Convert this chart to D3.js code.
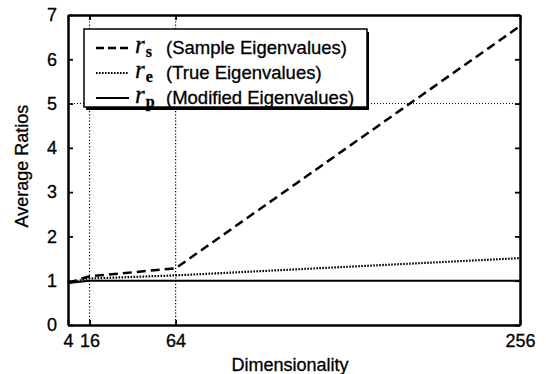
<!DOCTYPE html>
<html>
<head>
<meta charset="utf-8">
<script src="https://cdn.jsdelivr.net/npm/d3@7"></script>
<style>
  body { margin: 0; background: #fff; }
  text { font-family: "Liberation Sans", Arial, sans-serif; fill: #000; stroke: #000; stroke-width: 0.3px; }
</style>
</head>
<body>
<svg id="chart" width="546" height="374"></svg>
<script>
"use strict"

// data
let dims = [4, 16, 64, 256];
let sampleRatios = [0.95, 1.1, 1.28, 6.75];
let trueRatios = [0.95, 1.05, 1.12, 1.51];
let modifiedRatios = [0.95, 1.0, 1.0, 1.0];
let xTicks = [4, 16, 64, 256];
let yTicks = [0, 1, 2, 3, 4, 5, 6, 7];
let gridX = [16, 64];
let gridY = [5];
let legendNames = ["s", "e", "p"];
let legendLabels = ["(Sample Eigenvalues)", "(True Eigenvalues)", "(Modified Eigenvalues)"];

let plotL = 68, plotR = 520, plotT = 15, plotB = 325;

let svg = d3.select("#chart");

let x = d3.scaleLinear().domain([4, 256]).range([plotL, plotR]);
let y = d3.scaleLinear().domain([0, 7]).range([plotB, plotT]);

// dotted grid lines
svg.selectAll(".gx").data(gridX).enter().append("line")
   .attr("x1", d => x(d)).attr("x2", d => x(d))
   .attr("y1", plotT).attr("y2", plotB)
   .attr("stroke", "#000").attr("stroke-width", 1.2)
   .attr("stroke-dasharray", "1.2,2");
svg.selectAll(".gy").data(gridY).enter().append("line")
   .attr("x1", plotL).attr("x2", plotR)
   .attr("y1", d => y(d)).attr("y2", d => y(d))
   .attr("stroke", "#000").attr("stroke-width", 1)
   .attr("stroke-dasharray", "1,2");

// series
let series = [
  {values: sampleRatios, dash: "9,5", width: 2.5},
  {values: trueRatios, dash: "1.6,1.4", width: 2.2},
  {values: modifiedRatios, dash: null, width: 2}
];
let line = d3.line().x((d, i) => x(dims[i])).y(d => y(d));
series.forEach(function(s){
  svg.append("path")
     .attr("d", line(s.values))
     .attr("fill", "none")
     .attr("stroke", "#000")
     .attr("stroke-width", s.width)
     .attr("stroke-dasharray", s.dash);
});

// axes with inward ticks, matlab style box
let axB = svg.append("g").attr("transform", "translate(0," + plotB + ")")
             .call(d3.axisBottom(x).tickValues(xTicks).tickSizeInner(-5).tickSizeOuter(0).tickPadding(9));
let axT = svg.append("g").attr("transform", "translate(0," + plotT + ")")
             .call(d3.axisTop(x).tickValues(xTicks).tickSizeInner(-5).tickSizeOuter(0).tickFormat(""));
let axL = svg.append("g").attr("transform", "translate(" + plotL + ",0)")
             .call(d3.axisLeft(y).tickValues(yTicks).tickFormat(d3.format("d"))
                     .tickSizeInner(-5).tickSizeOuter(0).tickPadding(11));
let axR = svg.append("g").attr("transform", "translate(" + plotR + ",0)")
             .call(d3.axisRight(y).tickValues(yTicks).tickSizeInner(-5).tickSizeOuter(0).tickFormat(""));
[axB, axT, axL, axR].forEach(function(a){
  a.select(".domain").attr("stroke", "#000").attr("stroke-width", 2.5);
  a.selectAll(".tick line").attr("stroke", "#000").attr("stroke-width", 1.8);
  a.selectAll(".tick text").style("font-size", "18px").style("font-family", "Liberation Sans, Arial, sans-serif");
});

// axis titles
svg.append("text").attr("x", (plotL + plotR) / 2 - 4).attr("y", 371)
   .attr("text-anchor", "middle").style("font-size", "18px").text("Dimensionality");
svg.append("text").attr("transform", "translate(28," + ((plotT + plotB) / 2 - 4) + ") rotate(-90)")
   .attr("text-anchor", "middle").style("font-size", "18px").text("Average Ratios");

// legend
let lg = svg.append("g");
lg.append("rect").attr("x", 86).attr("y", 32).attr("width", 283).attr("height", 78).attr("fill", "#000");
lg.append("rect").attr("x", 84).attr("y", 29).attr("width", 283).attr("height", 78)
  .attr("fill", "#fff").attr("stroke", "#000").attr("stroke-width", 1.5);

let rows = lg.selectAll(".row").data(legendNames).enter().append("g")
             .attr("transform", (d, i) => "translate(0," + (48 + i * 25) + ")");
rows.append("line").attr("x1", 96).attr("x2", 129).attr("y1", 0).attr("y2", 0)
    .attr("stroke", "#000")
    .attr("stroke-width", (d, i) => series[i].width)
    .attr("stroke-dasharray", (d, i) => (i === 0 ? "8,4" : series[i].dash));
let sym = rows.append("text").attr("x", 135).attr("y", 5);
sym.append("tspan").text("r")
   .style("font-family", "Liberation Serif, Times New Roman, serif")
   .style("font-style", "italic").style("font-size", "25px");
sym.append("tspan").text(d => d).attr("dy", 4).attr("dx", 1)
   .style("font-family", "Liberation Serif, Times New Roman, serif")
   .style("font-weight", "bold").style("font-size", "16px");
rows.append("text").attr("x", 166).attr("y", 6)
    .style("font-size", "18.5px").text((d, i) => legendLabels[i]);
</script>
</body>
</html>
